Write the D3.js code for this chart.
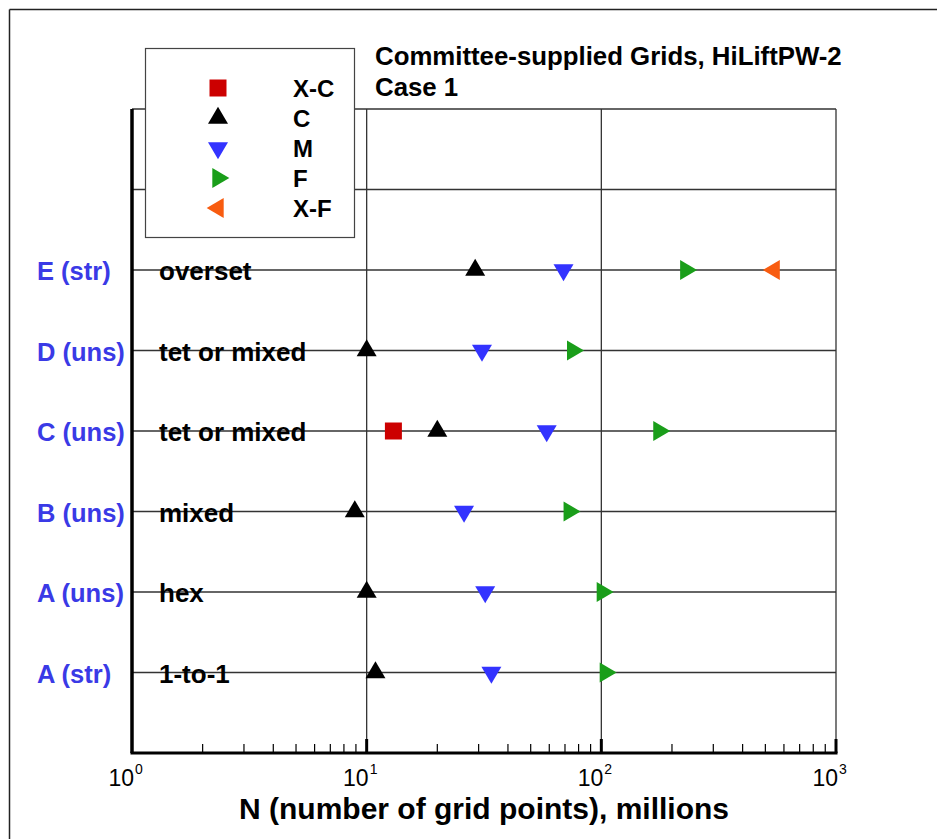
<!DOCTYPE html>
<html lang="en">
<head>
<meta charset="UTF-8">
<title>Committee-supplied Grids, HiLiftPW-2</title>
<script src="https://d3js.org/d3.v7.min.js"></script>
<style>
  body { margin: 0; background: #fff; }
  svg { font-family: "Liberation Sans", Arial, Helvetica, sans-serif; }
</style>
</head>
<body>
<svg id="svg" width="937" height="839"></svg>
<script>
  // rows bottom -> top
  const rowLabels = ["A (str)", "A (uns)", "B (uns)", "C (uns)", "D (uns)", "E (str)"];
  const gridTypes = ["1-to-1", "hex", "mixed", "tet or mixed", "tet or mixed", "overset"];

  // grid sizes, millions of points (null = no grid of that level)
  const xcPoints = [null, null, null, 13, null, null];
  const cPoints  = [10.9, 10, 8.9, 20, 10, 29];
  const mPoints  = [34, 32, 26, 58.5, 31, 69];
  const fPoints  = [104, 101, 73, 176, 75.5, 229];
  const xfPoints = [null, null, null, null, null, 545];

  const levelNames = ["X-C", "C", "M", "F", "X-F"];
  const levelColors = ["#cc0000", "#000000", "#3333ff", "#1a9e1a", "#f85c10"];
  const levelShapes = ["square", "up", "down", "right", "left"];
  const levelData = [xcPoints, cPoints, mPoints, fPoints, xfPoints];

  const xTicks = [1, 10, 100, 1000];

  const svg = d3.select("#svg");
  const pLeft = 132, pRight = 836, pTop = 109, pBottom = 753;

  const x = d3.scaleLog().domain([1, 1000]).range([pLeft, pRight]);
  const y = d3.scaleLinear().domain([0, 8]).range([pBottom, pTop]);

  function shapePath(kind) {
    const w = 10, h = 17, s = 8.5;
    if (kind === "square") return `M${-s},${-s}H${s}V${s}H${-s}Z`;
    if (kind === "up") return `M0,${-2 * h / 3}L${w},${h / 3}L${-w},${h / 3}Z`;
    if (kind === "down") return `M0,${2 * h / 3}L${w},${-h / 3}L${-w},${-h / 3}Z`;
    if (kind === "right") return `M${2 * h / 3},0L${-h / 3},${w}L${-h / 3},${-w}Z`;
    return `M${-2 * h / 3},0L${h / 3},${w}L${h / 3},${-w}Z`;
  }

  // outer frame (top + left only)
  svg.append("line").attr("x1", 9.5).attr("x2", 937).attr("y1", 9.5).attr("y2", 9.5)
    .attr("stroke", "#222").attr("stroke-width", 1.5);
  svg.append("line").attr("x1", 9.5).attr("x2", 9.5).attr("y1", 9.5).attr("y2", 839)
    .attr("stroke", "#222").attr("stroke-width", 1.5);

  // grid
  const grid = svg.append("g").attr("stroke", "#333").attr("stroke-width", 1.3);
  d3.range(1, 9).forEach(v => {
    grid.append("line").attr("x1", pLeft).attr("x2", pRight).attr("y1", y(v)).attr("y2", y(v));
  });
  [10, 100, 1000].forEach(v => {
    grid.append("line").attr("x1", x(v)).attr("x2", x(v)).attr("y1", pTop).attr("y2", pBottom);
  });

  // row labels
  svg.append("g").selectAll("text").data(rowLabels).join("text")
    .attr("x", 37).attr("y", (d, i) => y(i + 1) + 10)
    .attr("font-size", 25.5).attr("font-weight", "bold").attr("fill", "#3a3ae6")
    .text(d => d);

  svg.append("g").selectAll("text").data(gridTypes).join("text")
    .attr("x", 159).attr("y", (d, i) => y(i + 1) + 10)
    .attr("font-size", 26).attr("font-weight", "bold").attr("fill", "#000")
    .text(d => d);

  // markers
  levelData.forEach((arr, k) => {
    svg.append("g").selectAll("path")
      .data(arr.map((v, i) => ({ v, i })).filter(d => d.v != null))
      .join("path")
      .attr("d", shapePath(levelShapes[k]))
      .attr("transform", d => `translate(${x(d.v)},${y(d.i + 1)})`)
      .attr("fill", levelColors[k]);
  });

  // x axis with log ticks pointing inward
  const minor = [];
  for (let e = 0; e < 3; e++) for (let m = 2; m < 10; m++) minor.push(m * Math.pow(10, e));
  svg.append("g").selectAll("line").data(minor).join("line")
    .attr("x1", d => x(d)).attr("x2", d => x(d))
    .attr("y1", pBottom).attr("y2", pBottom - 9)
    .attr("stroke", "#000").attr("stroke-width", 1.2);
  svg.append("g").selectAll("line").data(xTicks.slice(1)).join("line")
    .attr("x1", d => x(d)).attr("x2", d => x(d))
    .attr("y1", pBottom).attr("y2", pBottom - 14)
    .attr("stroke", "#000").attr("stroke-width", 3);

  svg.append("line").attr("x1", pLeft - 1.5).attr("x2", pRight + 1.5)
    .attr("y1", pBottom).attr("y2", pBottom)
    .attr("stroke", "#000").attr("stroke-width", 3);
  svg.append("line").attr("x1", pLeft).attr("x2", pLeft)
    .attr("y1", pTop).attr("y2", pBottom)
    .attr("stroke", "#000").attr("stroke-width", 3.5);

  // tick labels: "10" with a raised exponent
  const tg = svg.append("g");
  tg.selectAll("text.base").data(xTicks).join("text").attr("class", "base")
    .attr("x", d => x(d) + 2).attr("y", 786)
    .attr("text-anchor", "end").attr("font-size", 23).attr("fill", "#000")
    .text("10");
  tg.selectAll("text.exp").data(xTicks).join("text").attr("class", "exp")
    .attr("x", d => x(d) + 3).attr("y", 774)
    .attr("font-size", 14).attr("fill", "#000")
    .text(d => Math.round(Math.log10(d)));

  svg.append("text").attr("x", 484).attr("y", 819)
    .attr("text-anchor", "middle").attr("font-size", 30).attr("font-weight", "bold")
    .text("N (number of grid points), millions");

  // title
  svg.append("text").attr("x", 375).attr("y", 65)
    .attr("font-size", 25.8).attr("font-weight", "bold")
    .text("Committee-supplied Grids, HiLiftPW-2");
  svg.append("text").attr("x", 375).attr("y", 96)
    .attr("font-size", 25.8).attr("font-weight", "bold")
    .text("Case 1");

  // legend
  const lg = svg.append("g");
  lg.append("rect").attr("x", 145.5).attr("y", 48.5).attr("width", 209).attr("height", 189)
    .attr("fill", "#fff").attr("stroke", "#444").attr("stroke-width", 1.2);
  levelNames.forEach((name, k) => {
    const yy = 88 + k * 30;
    lg.append("path").attr("d", shapePath(levelShapes[k]))
      .attr("transform", `translate(218,${yy})`).attr("fill", levelColors[k]);
    lg.append("text").attr("x", 293).attr("y", yy + 8.5)
      .attr("font-size", 24).attr("font-weight", "bold").text(name);
  });
</script>
</body>
</html>
